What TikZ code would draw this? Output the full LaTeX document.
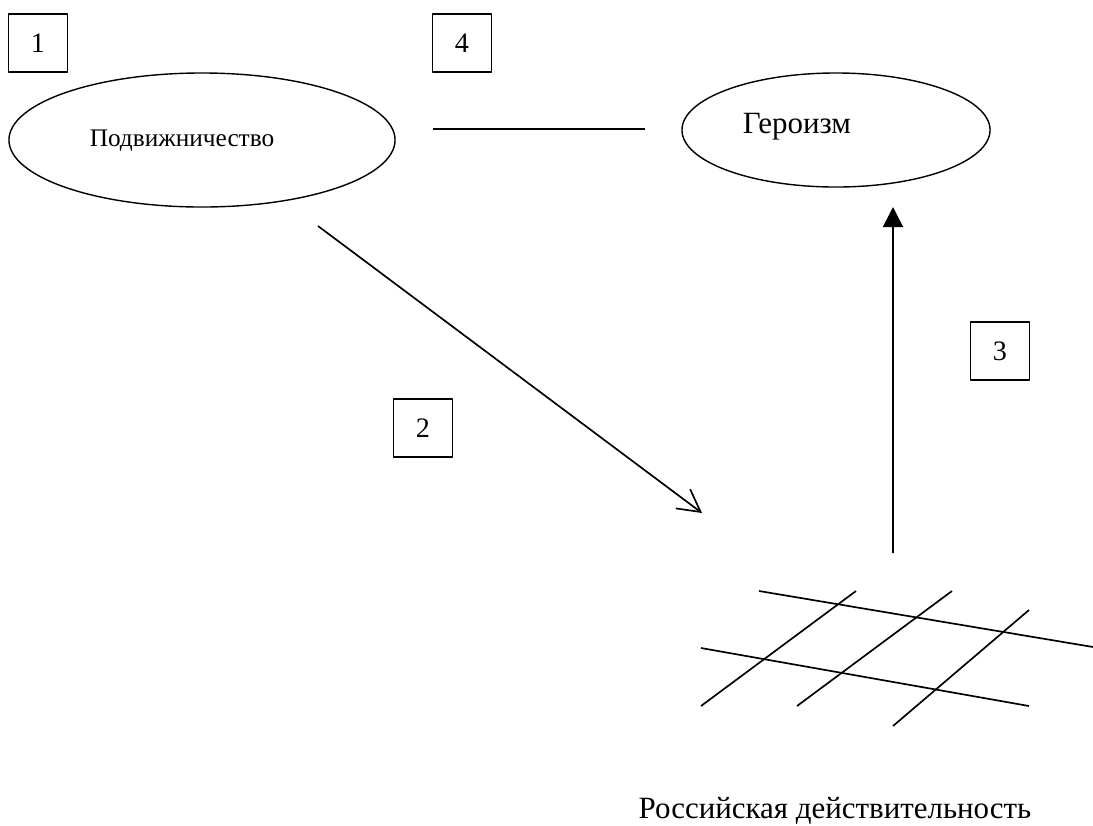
\documentclass[tikz,border=0pt]{standalone}
\usepackage{fontspec}
\setmainfont{Liberation Serif}
\usetikzlibrary{shapes.geometric,arrows.meta}
\begin{document}
\begin{tikzpicture}[x=0.025cm, y=-0.025cm, line width=1.2pt, line join=round,
	numbox/.style={draw, line width=1pt, minimum width=1.48cm, minimum height=1.45cm, inner sep=0pt, font={\fontsize{20pt}{22pt}\selectfont}},
	oval/.style={draw, ellipse, line width=1pt, inner sep=0pt}]
	\useasboundingbox (0,0) rectangle (1093,825);
	% ovals
	\node[oval, minimum width=9.65cm, minimum height=3.35cm] (podv) at (202,140) {};
	\node[anchor=base, font={\fontsize{18pt}{20pt}\selectfont}] (podvtxt) at (182,146) {Подвижничество};
	\node[oval, minimum width=7.7cm, minimum height=2.85cm] (geroi) at (836,130) {};
	\node[anchor=base, font={\fontsize{22pt}{24pt}\selectfont}] (geroitxt) at (797,133) {Героизм};
	% numbers
	\node[numbox] (n1) at (38,43) {1};
	\node[numbox] (n4) at (462,43) {4};
	\node[numbox] (n2) at (423,428) {2};
	\node[numbox] (n3) at (1000,351) {3};
	% connectors
	\coordinate (l4a) at (433,129);
	\coordinate (l4b) at (645,129);
	\draw (l4a)--(l4b);
	\coordinate (a2a) at (318,226);
	\coordinate (a2b) at (702,513);
	\draw[-{Straight Barb[length=0.55cm,width=0.6cm]}] (a2a)--(a2b);
	\coordinate (a3a) at (893,553);
	\coordinate (a3b) at (893,207);
	\draw[-{Triangle[length=0.5cm,width=0.5cm]}] (a3a)--(a3b);
	% grid
	\draw (759,591)--(1093,647);
	\draw (701,648)--(1029,706);
	\draw (856,591)--(701,706);
	\draw (952,591)--(797,706);
	\draw (1029,610)--(893,726);
	\node[anchor=base, font={\fontsize{22pt}{24pt}\selectfont}] (ross) at (835,818) {Российская действительность};
\end{tikzpicture}
\end{document}
